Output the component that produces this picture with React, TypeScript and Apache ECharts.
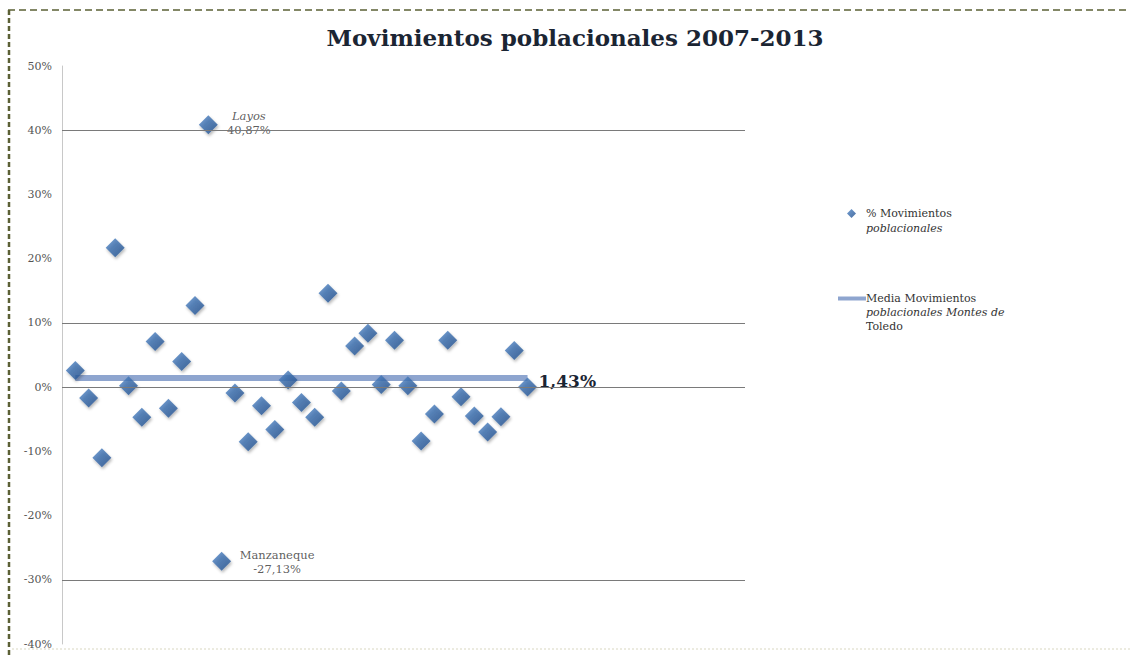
import React, { useEffect, useRef } from "react";
import * as echarts from "echarts";

const titleText = "Movimientos poblacionales 2007-2013";
const scatterName = "% Movimientos poblacionales";
const meanName = "Media Movimientos poblacionales Montes de Toledo";

// % movement per municipality (in order of appearance)
const values: number[] = [
  2.6, -1.7, -11.0, 21.7, 0.2, -4.7, 7.1, -3.3, 4.0, 12.7,
  40.87, -27.13, -0.9, -8.5, -2.9, -6.6, 1.1, -2.4, -4.7, 14.6,
  -0.6, 6.4, 8.4, 0.4, 7.3, 0.2, -8.4, -4.2, 7.3, -1.5,
  -4.5, -7.0, -4.6, 5.7, 0.0,
];
const meanValue = 1.43;
const meanLabel = "1,43%";
const namedPoints = [
  { index: 10, name: "Layos", text: "40,87%", italic: true },
  { index: 11, name: "Manzaneque", text: "-27,13%", italic: false },
];
const yTicks = { min: -40, max: 50, interval: 10 };
const gridLineValues = [40, 10, 0, -30];

export default function App() {
  const ref = useRef<HTMLDivElement>(null);
  useEffect(() => {
    if (!ref.current) return;
    const chart = echarts.init(ref.current, null, { renderer: "svg" });
    const serif = "DejaVu Serif";
    const scatterData = values.map((v, i) => {
      const np = namedPoints.find((p) => p.index === i);
      const item: any = { value: [i + 1, v] };
      if (np) {
        item.label = {
          show: true,
          formatter: `{${np.italic ? "it" : "n"}|${np.name}}\n{n|${np.text}}`,
          position: np.italic ? [50, 8] : [65, 10],
          align: "center",
          verticalAlign: "middle",
          rich: {
            it: { fontFamily: serif, fontStyle: "italic", fontSize: 11.5, color: "#333", lineHeight: 14, align: "center" },
            n: { fontFamily: serif, fontSize: 11.5, color: "#333", lineHeight: 14, align: "center" },
          },
        };
      }
      return item;
    });
    const n = values.length;
    chart.setOption({
      animation: false,
      backgroundColor: "#ffffff",
      textStyle: { fontFamily: serif },
      title: {
        text: titleText,
        left: 570,
        top: 21,
        textAlign: "center",
        textStyle: { fontFamily: serif, fontWeight: "bold", fontSize: 23, color: "#1b2533" },
      },
      grid: { left: 62, right: 385, top: 66, bottom: 13 },
      xAxis: {
        type: "value",
        min: 0,
        max: 51.35,
        show: false,
      },
      yAxis: {
        type: "value",
        min: yTicks.min,
        max: yTicks.max,
        interval: yTicks.interval,
        axisLine: { show: true, lineStyle: { color: "#c8c8c8", width: 1 } },
        axisTick: { show: false },
        splitLine: { show: false },
        axisLabel: {
          formatter: (v: number) => `${v}%`,
          fontFamily: serif,
          fontSize: 11,
          color: "#555",
          margin: 10,
        },
      },
      legend: [
        {
          data: [{ name: scatterName, icon: "diamond" }],
          left: 847,
          top: 208,
          padding: 0,
          itemWidth: 9,
          itemHeight: 9,
          itemGap: 6,
          formatter: () => "{n|% Movimientos}\n{i|poblacionales}",
          textStyle: {
            fontFamily: serif,
            fontSize: 11,
            color: "#333",
            padding: [15, 0, 0, 5],
            rich: {
              n: { fontFamily: serif, fontSize: 11, color: "#333", lineHeight: 15 },
              i: { fontFamily: serif, fontSize: 11, fontStyle: "italic", color: "#333", lineHeight: 15 },
            },
          },
        },
        {
          data: [{ name: meanName, icon: "rect" }],
          left: 838,
          top: 293,
          padding: 0,
          itemWidth: 28,
          itemHeight: 4,
          itemGap: 0,
          formatter: () => "{n|Media Movimientos}\n{i|poblacionales Montes de}\n{n|Toledo}",
          textStyle: {
            fontFamily: serif,
            fontSize: 11,
            color: "#333",
            padding: [28, 0, 0, -5],
            rich: {
              n: { fontFamily: serif, fontSize: 11, color: "#333", lineHeight: 14 },
              i: { fontFamily: serif, fontSize: 11, fontStyle: "italic", color: "#333", lineHeight: 14 },
            },
          },
        },
      ],
      series: [
        {
          name: meanName,
          type: "line",
          z: 2,
          data: [
            [1, meanValue],
            [n, meanValue],
          ],
          showSymbol: false,
          symbol: "none",
          lineStyle: { color: "#8ea5cf", width: 6 },
          itemStyle: { color: "#8ea5cf" },
          endLabel: {
            show: true,
            formatter: meanLabel,
            fontFamily: serif,
            fontWeight: "bold",
            fontSize: 17,
            color: "#1b2533",
            distance: 11,
            offset: [0, 3],
          },
          markLine: {
            silent: true,
            symbol: "none",
            label: { show: false },
            lineStyle: { color: "#7a7a7a", width: 1, type: "solid" },
            data: gridLineValues.map((v) => ({ yAxis: v })),
          },
        },
        {
          name: scatterName,
          type: "scatter",
          z: 3,
          symbol: "diamond",
          symbolSize: 19,
          itemStyle: {
            color: new echarts.graphic.LinearGradient(0, 0, 1, 1, [
              { offset: 0, color: "#4f86c8" },
              { offset: 1, color: "#1c4a88" },
            ]),
            shadowBlur: 3,
            shadowColor: "rgba(0,0,0,0.35)",
            shadowOffsetX: 1,
            shadowOffsetY: 2,
          },
          data: scatterData,
        },
      ],
      graphic: [
        {
          type: "line",
          shape: { x1: 8, y1: 10, x2: 1130, y2: 10 },
          style: { stroke: "#5b6035", lineWidth: 1.5, lineDash: [7, 4] },
        },
        {
          type: "line",
          shape: { x1: 9, y1: 10, x2: 9, y2: 657 },
          style: { stroke: "#5b6035", lineWidth: 2.5, lineDash: [5, 3] },
        },
        {
          type: "line",
          shape: { x1: 12, y1: 649, x2: 1130, y2: 649 },
          style: { stroke: "#ecebe0", lineWidth: 2, lineDash: [2, 2] },
        },
      ],
    });
    return () => chart.dispose();
  }, []);
  return (
    <div
      ref={ref}
      style={{ position: "absolute", left: 0, top: 0, width: 1130, height: 657 }}
    />
  );
}
